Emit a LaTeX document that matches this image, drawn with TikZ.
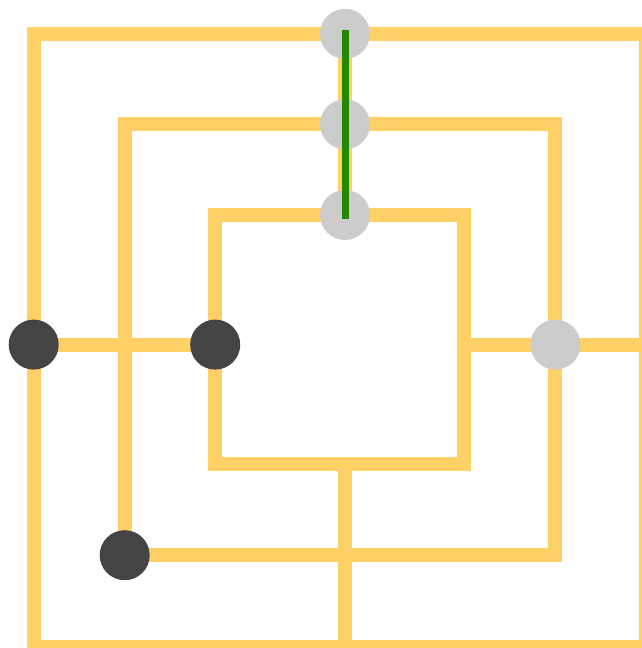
\documentclass[tikz,border=0pt]{standalone}
\usepackage{xcolor}
\definecolor{boardyellow}{RGB}{255,208,102}
\definecolor{stonedark}{RGB}{68,68,68}
\definecolor{stonelight}{RGB}{204,204,204}
\definecolor{millgreen}{RGB}{34,136,0}
\tikzset{
  board/.style={line width=14pt, boardyellow},
  darkstone/.style={circle, fill=stonedark, minimum size=50pt, inner sep=0pt},
  lightstone/.style={circle, fill=stonelight, minimum size=50pt, inner sep=0pt},
  millline/.style={line width=7pt, millgreen, line cap=rect}
}
\begin{document}
\begin{tikzpicture}[x=1pt, y=-1pt]

    % 1. Page frame (outer square runs past the right and bottom edge)
    \useasboundingbox (0,0) rectangle (642,648);
    \clip (0,0) rectangle (642,648);

    % 2. Corners of the three squares
    \coordinate (OTL) at (33.7, 33.8);
    \coordinate (OBR) at (645.5, 646.5);
    \coordinate (MTL) at (124.7, 124.3);
    \coordinate (MBR) at (555.4, 555.2);
    \coordinate (ITL) at (215.2, 215.0);
    \coordinate (IBR) at (464.2, 463.7);

    % 3. Midpoints where the cross lines meet the squares
    \coordinate (OT) at (345, 33.8);
    \coordinate (MT) at (345, 124.3);
    \coordinate (IT) at (345, 215.0);
    \coordinate (IB) at (345, 463.7);
    \coordinate (OB) at (345, 646.5);
    \coordinate (OL) at (33.7, 344.6);
    \coordinate (IL) at (215.2, 344.6);
    \coordinate (IR) at (464.2, 344.6);
    \coordinate (MR) at (555.4, 344.6);
    \coordinate (OR) at (645.5, 344.6);
    \coordinate (MBL) at (124.7, 555.2);

    % 4. Draw the board
    \draw[board] (OTL) rectangle (OBR);
    \draw[board] (MTL) rectangle (MBR);
    \draw[board] (ITL) rectangle (IBR);
    \draw[board] (OT) -- (IT);
    \draw[board] (IB) -- (OB);
    \draw[board] (OL) -- (IL);
    \draw[board] (IR) -- (OR);

    % 5. Light stones
    \node[lightstone] (L1) at (OT) {};
    \node[lightstone] (L2) at (MT) {};
    \node[lightstone] (L3) at (IT) {};
    \node[lightstone] (L4) at (MR) {};

    % 6. Dark stones
    \node[darkstone] (D1) at (OL) {};
    \node[darkstone] (D2) at (IL) {};
    \node[darkstone] (D3) at (MBL) {};

    % 7. Mark the mill of light stones
    \draw[millline] (L1.center) -- (L3.center);

\end{tikzpicture}
\end{document}
